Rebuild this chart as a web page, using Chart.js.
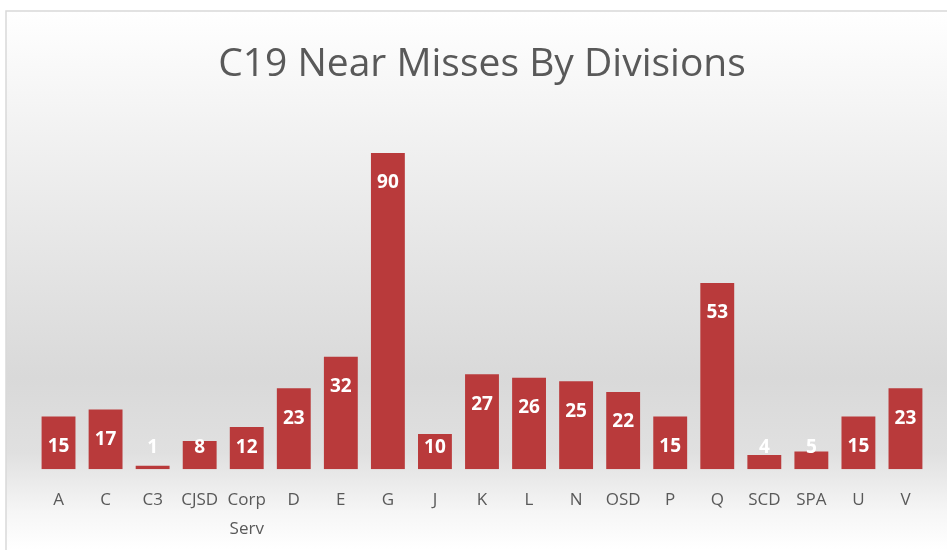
<!DOCTYPE html>
<html lang="en">
<head>
    <meta charset="UTF-8">
    <title>C19 Near Misses By Divisions</title>
    <style>
        html, body {
            margin: 0;
            padding: 0;
            background: #ffffff;
            overflow: hidden;
        }
        .chart-box {
            width: 947px;
            height: 550px;
        }
    </style>
    <script src="https://cdn.jsdelivr.net/npm/chart.js"></script>
</head>
<body>
    <div class="chart-box">
        <canvas id="barChart" width="947" height="550"></canvas>
    </div>

<script>
    // data
    const divisions = ['A', 'C', 'C3', 'CJSD', ['Corp', 'Serv'], 'D', 'E', 'G', 'J', 'K', 'L', 'N', 'OSD', 'P', 'Q', 'SCD', 'SPA', 'U', 'V'];
    const nearMisses = [15, 17, 1, 8, 12, 23, 32, 90, 10, 27, 26, 25, 22, 15, 53, 4, 5, 15, 23];
    const axisMax = 100;

    // grey gradient panel with a thin frame on top and left
    const backgroundPanel = {
        id: 'backgroundPanel',
        beforeDraw(chart) {
            const ctx = chart.ctx;
            const w = chart.width, h = chart.height;
            const top = 11, left = 6;
            const g = ctx.createLinearGradient(0, top, 0, h);
            g.addColorStop(0, '#ffffff');
            g.addColorStop(0.2, '#f3f3f3');
            g.addColorStop(0.68, '#d9d9d9');
            g.addColorStop(0.82, '#e0e0e0');
            g.addColorStop(0.93, '#f6f6f6');
            g.addColorStop(1, '#ffffff');
            ctx.save();
            ctx.fillStyle = g;
            ctx.fillRect(left, top, w - left, h - top);
            ctx.strokeStyle = '#d9d9d9';
            ctx.lineWidth = 1.5;
            ctx.beginPath();
            ctx.moveTo(left, h);
            ctx.lineTo(left, top);
            ctx.lineTo(w, top);
            ctx.stroke();
            ctx.restore();
        }
    };

    // white value labels near the top of each bar
    const valueLabels = {
        id: 'valueLabels',
        afterDatasetsDraw(chart) {
            const ctx = chart.ctx;
            const meta = chart.getDatasetMeta(0);
            ctx.save();
            ctx.font = 'bold 19px "Open Sans"';
            ctx.fillStyle = '#ffffff';
            ctx.textAlign = 'center';
            ctx.textBaseline = 'middle';
            meta.data.forEach((bar, i) => {
                const y = Math.min(bar.y + 30, bar.base - 22);
                ctx.fillText(String(nearMisses[i]), bar.x, y);
            });
            ctx.restore();
        }
    };

    const ctx = document.getElementById('barChart').getContext('2d');
    new Chart(ctx, {
        type: 'bar',
        data: {
            labels: divisions,
            datasets: [{
                data: nearMisses,
                backgroundColor: '#b93a3b',
                borderWidth: 0,
                categoryPercentage: 1,
                barPercentage: 0.72
            }]
        },
        options: {
            responsive: false,
            animation: false,
            layout: {
                padding: { left: 35, right: 18, top: 11, bottom: -10 }
            },
            scales: {
                x: {
                    grid: { display: false, drawTicks: false },
                    border: { display: false },
                    ticks: {
                        color: '#595959',
                        font: { family: 'Open Sans', size: 17, lineHeight: 1.73 },
                        padding: 16,
                        maxRotation: 0,
                        autoSkip: false
                    }
                },
                y: {
                    display: false,
                    min: 0,
                    max: axisMax
                }
            },
            plugins: {
                legend: { display: false },
                tooltip: { enabled: false },
                title: {
                    display: true,
                    text: 'C19 Near Misses By Divisions',
                    color: '#595959',
                    font: { family: 'Open Sans', size: 39, weight: 'normal' },
                    padding: { top: 30, bottom: 30 }
                }
            }
        },
        plugins: [backgroundPanel, valueLabels]
    });
</script>
</body>
</html>
